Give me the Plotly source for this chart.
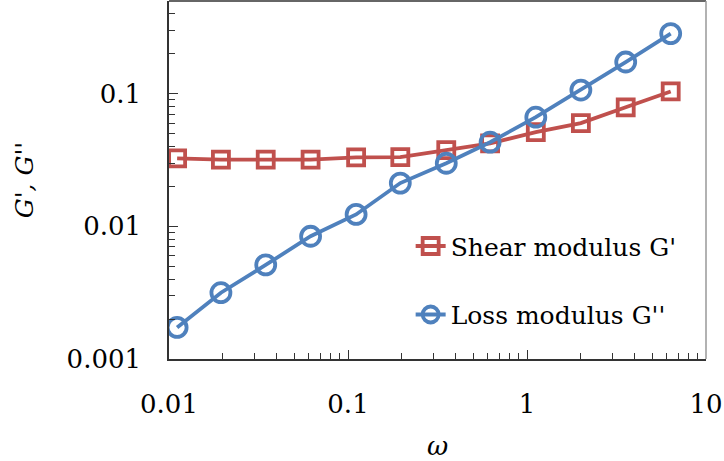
import plotly.graph_objects as go

omega = [0.0111, 0.0195, 0.0347, 0.0618, 0.111, 0.196, 0.354, 0.622, 1.12, 2.0, 3.56, 6.35]
g_storage = [0.0326, 0.0319, 0.0319, 0.0319, 0.0331, 0.0333, 0.0376, 0.0422, 0.0514, 0.060, 0.079, 0.104]
g_loss = [0.00173, 0.00316, 0.00512, 0.00842, 0.0123, 0.0212, 0.0299, 0.0431, 0.0665, 0.1066, 0.1734, 0.284]

x_tickvals = [0.01, 0.1, 1, 10]
x_ticktext = ["0.01", "0.1", "1", "10"]
y_tickvals = [0.001, 0.01, 0.1]
y_ticktext = ["0.001", "0.01", "0.1"]

RED = "#C0504D"
BLUE = "#4F81BD"
FONT = "DejaVu Serif"

fig = go.Figure()
fig.add_trace(go.Scatter(
    x=omega, y=g_storage, mode="lines+markers", name="Shear modulus G'",
    line=dict(color=RED, width=3.8), legendgroup="a",
    marker=dict(symbol="square-open", size=16, color=RED, line=dict(width=3.8, color=RED)),
))
fig.add_trace(go.Scatter(
    x=omega, y=g_loss, mode="lines+markers", name="Loss modulus G''",
    line=dict(color=BLUE, width=3.8), legendgroup="b",
    marker=dict(symbol="circle-open", size=19, color=BLUE, line=dict(width=3.8, color=BLUE)),
))

axis_common = dict(
    type="log", showline=True, linecolor="#333333", linewidth=1.5,
    ticks="inside", ticklen=9, tickcolor="#333333", tickwidth=1,
    showgrid=False, zeroline=False, tickmode="array",
    ticklabeloverflow="allow",
    tickfont=dict(family=FONT, size=26, color="black"),
    minor=dict(ticks="inside", ticklen=6, tickcolor="#333333", dtick="D1", showgrid=False),
)

fig.update_xaxes(
    **axis_common, range=[-2, 1], tickvals=x_tickvals, ticktext=x_ticktext,
    ticklabelstandoff=21,
    title=dict(text="<i>ω</i>", font=dict(family=FONT, size=26, color="black"), standoff=23),
)
fig.update_yaxes(
    **axis_common, range=[-3, -0.301], tickvals=y_tickvals, ticktext=y_ticktext,
    ticklabelstandoff=21,
    title=dict(text="<i>G', G''</i>", font=dict(family=FONT, size=25, color="black"), standoff=26),
)

fig.add_shape(type="line", xref="paper", yref="paper", x0=0, x1=1, y0=1, y1=1,
              line=dict(color="#333333", width=1.5))
fig.add_shape(type="line", xref="paper", yref="paper", x0=1, x1=1, y0=0, y1=1,
              line=dict(color="#999999", width=1.5))

fig.update_layout(
    width=724, height=461,
    margin=dict(l=169, r=17, t=1, b=100),
    paper_bgcolor="white", plot_bgcolor="white",
    font=dict(family=FONT, color="black"),
    showlegend=True,
    legend=dict(x=0.45, y=0.22, xanchor="left", yanchor="middle",
                font=dict(family=FONT, size=25, color="black"),
                bgcolor="rgba(0,0,0,0)", tracegroupgap=33, itemwidth=30),
)

fig.write_html("out.html")
